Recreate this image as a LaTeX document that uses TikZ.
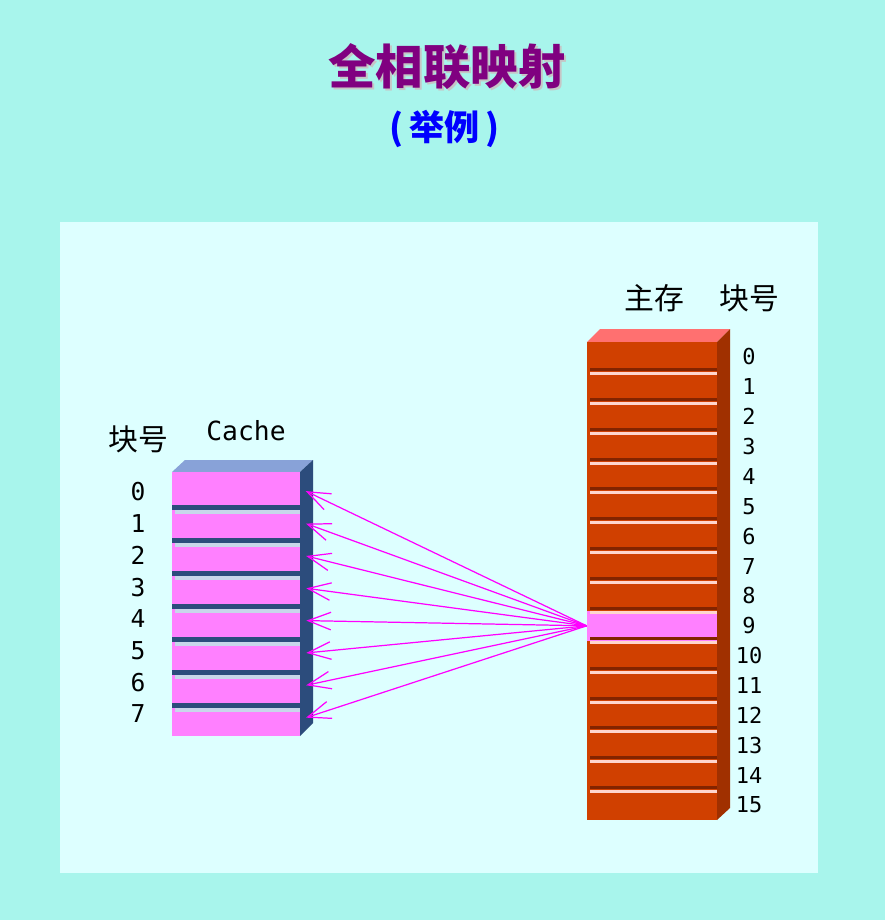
\documentclass[tikz,border=0pt]{standalone}
\usepackage{fontspec}
\usepackage{xcolor}
\usepackage{tikz}
\usetikzlibrary{arrows.meta}

\newfontfamily\cjk{Noto Sans CJK SC}
\newfontfamily\digits{DejaVu Sans Mono}

\definecolor{bgouter}{RGB}{168,245,236}
\definecolor{bgpanel}{RGB}{221,255,255}
\definecolor{titlepurple}{RGB}{128,0,128}
\definecolor{arrowpink}{RGB}{255,0,255}
\definecolor{cachepink}{RGB}{255,128,255}
\definecolor{cacheside}{RGB}{44,76,124}
\definecolor{cachetop}{RGB}{136,162,216}
\definecolor{cachelight}{RGB}{200,214,234}
\definecolor{memfront}{RGB}{208,64,0}
\definecolor{memside}{RGB}{160,48,0}
\definecolor{memtop}{RGB}{255,112,112}
\definecolor{memdark}{RGB}{130,36,0}
\definecolor{mempale}{RGB}{255,214,204}

\begin{document}
\begin{tikzpicture}[
  x=0.02cm, y=-0.02cm,
  arr/.style={-{Straight Barb[length=13pt,width=10pt]}, line width=0.7pt,
              arrowpink, shorten >=0.12cm},
  cacherow/.style={rectangle, fill=cachepink, inner sep=0pt,
                   minimum width=2.56cm, minimum height=0.66cm},
  memrow/.style={rectangle, fill=memfront, inner sep=0pt,
                 minimum width=2.6cm, minimum height=0.5975cm},
  lbl/.style={font=\cjk\fontsize{17pt}{19pt}\selectfont, inner sep=0pt},
  cnum/.style={font=\digits\fontsize{14pt}{16pt}\selectfont, inner sep=0pt},
  mnum/.style={font=\digits\fontsize{12.5pt}{14pt}\selectfont, inner sep=0pt},
]

%% ===== Background =====
\useasboundingbox (0,0) rectangle (885,920);
\fill[bgouter] (0,0) rectangle (885,920);
\fill[bgpanel] (60,222) rectangle (818,873);

%% ===== Title =====
\node[font=\cjk\bfseries\fontsize{27pt}{30pt}\selectfont, text=gray!45]
  (titleshadow) at (449,69) {全相联映射};
\node[font=\cjk\bfseries\fontsize{27pt}{30pt}\selectfont, text=titlepurple]
  (title) at (447,67) {全相联映射};
\node[font=\cjk\bfseries\fontsize{20pt}{22pt}\selectfont, text=blue]
  (sub) at (445,129) {(\,举例\,)};

%% ===== Cache =====
\fill[cachetop]  (172,472) -- (185,460) -- (313,460) -- (300,472) -- cycle;
\fill[cacheside] (300,472) -- (313,460) -- (313,723) -- (300,736) -- cycle;

\foreach \k in {0,...,7}
  \node[cacherow] (c\k) at (236,{488.5+33*\k}) {};
\foreach \k in {1,...,7} {
  \fill[cacheside]  (172,{472+33*\k})   rectangle (300,{476.5+33*\k});
  \fill[cachelight] (175,{476.5+33*\k}) rectangle (300,{480.5+33*\k});
}

\node[lbl] (cblk) at (138,439) {块号};
\node[font=\digits\fontsize{15pt}{17pt}\selectfont, inner sep=0pt]
  (cname) at (246,431) {Cache};
\foreach \k in {0,...,7}
  \node[cnum] (cn\k) at (138,{492+31.7*\k}) {\k};

%% ===== Main memory =====
\fill[memtop]  (587,342) -- (600,329) -- (730,329) -- (717,342) -- cycle;
\fill[memside] (717,342) -- (730,329) -- (730,808) -- (717,820) -- cycle;

\foreach \k in {0,...,15}
  \node[memrow] (m\k) at (652,{356.94+29.875*\k}) {};
\node[memrow, fill=cachepink] (m9) at (652,{356.94+29.875*9}) {};
\foreach \k in {1,...,15} {
  \fill[memdark] (590,{338+29.875*\k}) rectangle (717,{341+29.875*\k});
  \fill[mempale] (590,{342+29.875*\k}) rectangle (717,{345+29.875*\k});
}

\node[lbl] (mname) at (654,298) {主存};
\node[lbl] (mblk) at (749,298) {块号};
\foreach \k in {0,...,15}
  \node[mnum] (mn\k) at (749,{356.94+29.875*\k}) {\k};

%% ===== Mapping arrows =====
\foreach \k in {0,...,7}
  \draw[arr] (m9.west) -- (c\k.east);

\end{tikzpicture}
\end{document}
